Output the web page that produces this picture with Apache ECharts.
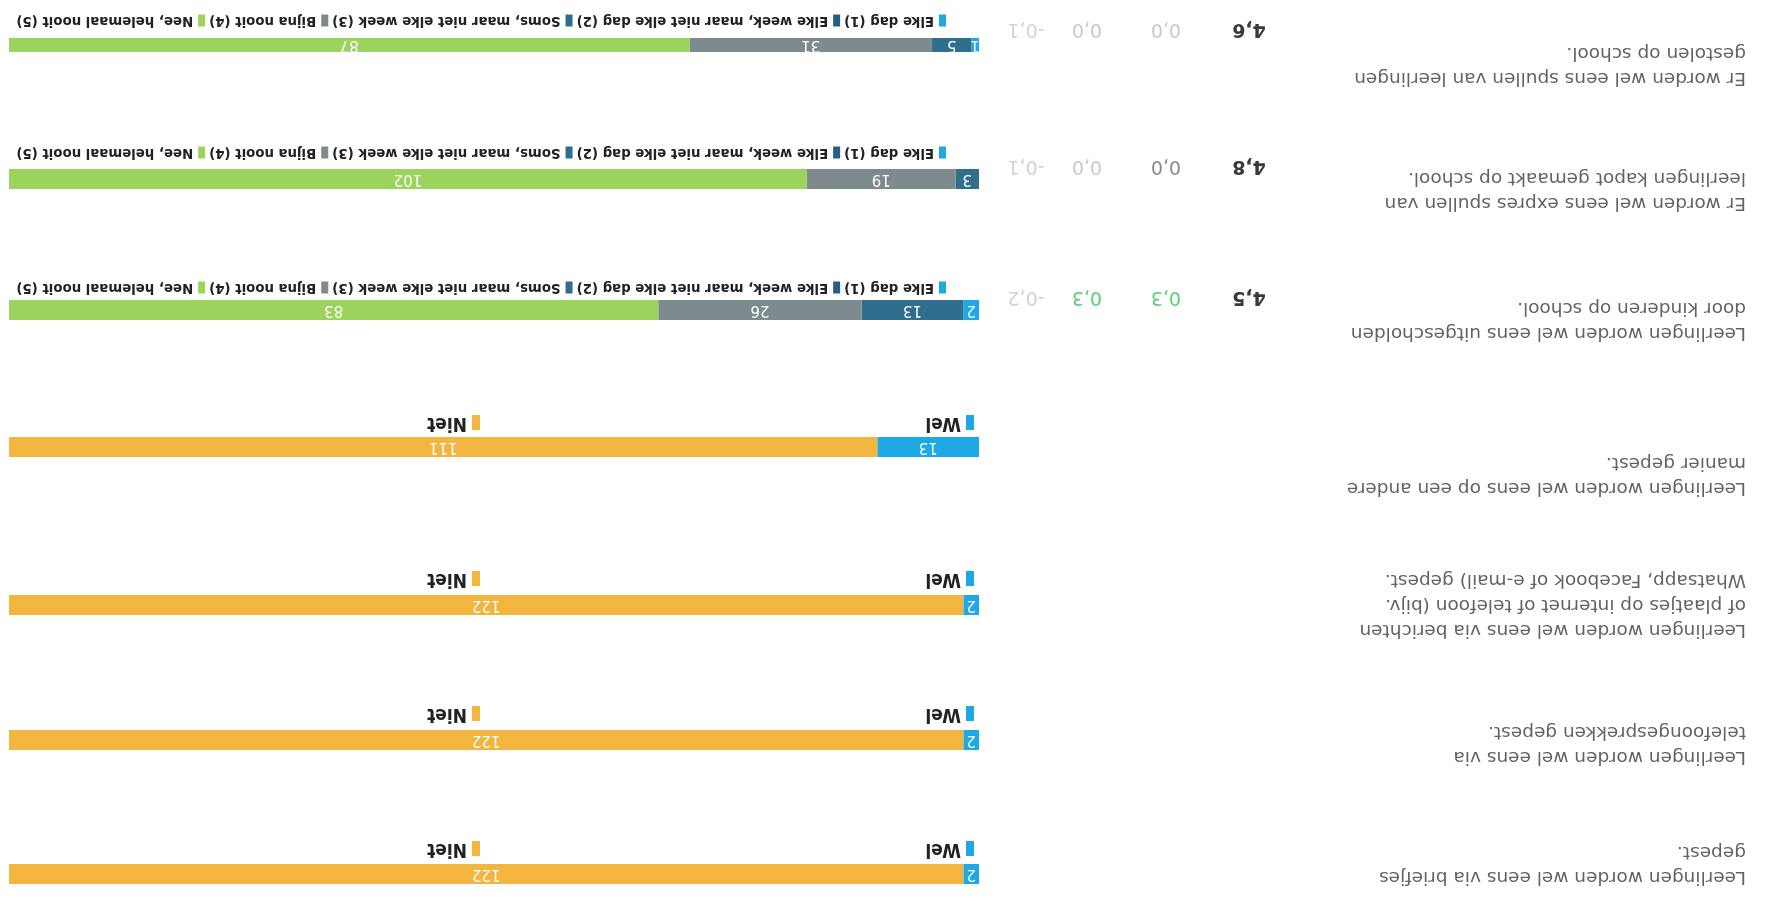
<!DOCTYPE html>
<html><head><meta charset="utf-8">
<script src="https://cdn.jsdelivr.net/npm/echarts@6/dist/echarts.min.js"></script>
<style>
html,body{margin:0;padding:0;background:#fff;overflow:hidden}
#c{width:1772px;height:916px;transform:rotate(180deg);transform-origin:50% 50%}
</style>
</head><body><div id="c"></div>
<script>
// ---- data ----
const questions = [
  'Leerlingen worden wel eens via briefjes\ngepest.',
  'Leerlingen worden wel eens via\ntelefoongesprekken gepest.',
  'Leerlingen worden wel eens via berichten\nof plaatjes op internet of telefoon (bijv.\nWhatsapp, Facebook of e-mail) gepest.',
  'Leerlingen worden wel eens op een andere\nmanier gepest.',
  'Leerlingen worden wel eens uitgescholden\ndoor kinderen op school.',
  'Er worden wel eens expres spullen van\nleerlingen kapot gemaakt op school.',
  'Er worden wel eens spullen van leerlingen\ngestolen op school.'
];
const yesNoNames = ['Wel', 'Niet'];
const welValues = [2, 2, 2, 13];
const nietValues = [122, 122, 122, 111];
const likertNames = ['Elke dag (1)', 'Elke week, maar niet elke dag (2)', 'Soms, maar niet elke week (3)', 'Bijna nooit (4)', 'Nee, helemaal nooit (5)'];
const elkeDag = [2, 0, 1];
const elkeWeek = [0, 0, 0];
const soms = [13, 3, 5];
const bijnaNooit = [26, 19, 31];
const neeNooit = [83, 102, 87];
const gemiddelde = ['4,5', '4,8', '4,6'];
const verschilA = ['0,3', '0,0', '0,0'];
const verschilB = ['0,3', '0,0', '0,0'];
const verschilC = ['-0,2', '-0,1', '-0,1'];
const totalRespondents = 124;

// ---- layout / style ----
const rowCenters = [42, 176, 311, 469, 606, 737, 874];
const legendCenters = [68, 203, 338, 494, 629, 764, 896];
const labelShift = [10, -4, 0, -28, -10, -11, -20];
const gridLeft = 793, gridRight = 9, barH = 20;
const yesNoColors = ['#1ea8e6', '#f1b540'];
const likertColors = ['#1ea8e6', '#275d85', '#2f6e8c', '#7d8a8e', '#9bd35d'];
const narrow = '"Liberation Sans Narrow","DejaVu Sans Condensed","Arial Narrow",sans-serif';

const grids = [], xAxes = [], yAxes = [], series = [], legends = [], graphics = [];
const lbl = {show: true, position: 'inside', color: '#fff', fontSize: 15, fontFamily: 'DejaVu Sans',
  formatter: p => p.value > 0 ? p.value : ''};

questions.forEach((q, i) => {
  grids.push({left: gridLeft, right: gridRight, top: rowCenters[i] - barH / 2, height: barH});
  xAxes.push({type: 'value', gridIndex: i, min: 0, max: totalRespondents, show: false});
  const s = labelShift[i];
  const sp = Math.max(1, 2 * Math.abs(s));
  yAxes.push({type: 'category', gridIndex: i, data: [q],
    axisLine: {show: false}, axisTick: {show: false},
    axisLabel: {align: 'left', margin: gridLeft - 26, verticalAlign: 'middle',
      formatter: v => (s > 0 ? '{sp| }\n' : '') + v.split('\n').map(l => '{t|' + l + '}').join('\n') + (s < 0 ? '\n{sp| }' : ''),
      rich: {
        t: {fontSize: 18.5, lineHeight: 25, color: '#636363', fontFamily: 'DejaVu Sans'},
        sp: {fontSize: 1, lineHeight: sp, height: sp}
      }}});
  if (i < 4) {
    [welValues, nietValues].forEach((arr, k) => {
      series.push({type: 'bar', name: yesNoNames[k], xAxisIndex: i, yAxisIndex: i, stack: 'r' + i,
        data: [arr[i]], barWidth: barH, itemStyle: {color: yesNoColors[k]}, label: lbl});
    });
    const legPos = [798, 1292];
    yesNoNames.forEach((n, k) => legends.push({data: [n], left: legPos[k], top: legendCenters[i] - 10,
      padding: 0, icon: 'rect', itemWidth: 8, itemHeight: 15, itemGap: 6,
      textStyle: {fontSize: 19, fontWeight: 'bold', color: '#222', fontFamily: narrow}}));
  } else {
    const j = i - 4;
    [elkeDag, elkeWeek, soms, bijnaNooit, neeNooit].forEach((arr, k) => {
      series.push({type: 'bar', name: likertNames[k], xAxisIndex: i, yAxisIndex: i, stack: 'r' + i,
        data: [arr[j]], barWidth: barH, itemStyle: {color: likertColors[k]}, label: lbl});
    });
    legends.push({data: likertNames, left: 826, top: legendCenters[i] - 8, width: 960, padding: 0, icon: 'rect',
      itemWidth: 7, itemHeight: 12, itemGap: 4,
      textStyle: {fontSize: 14.8, fontWeight: 'bold', color: '#222', fontFamily: narrow}});
    const y = rowCenters[i] + 13;
    const cols = [
      {t: gemiddelde[j], x: 523, c: '#3a3a3a', w: 'bold'},
      {t: verschilA[j], x: 606, c: verschilA[j] === '0,0' ? (j === 1 ? '#8a8a8a' : '#c9c9c9') : '#5ccf73', w: 'normal'},
      {t: verschilB[j], x: 685, c: verschilB[j] === '0,0' ? '#c9c9c9' : '#5ccf73', w: 'normal'},
      {t: verschilC[j], x: 746, c: '#d2d2d2', w: 'normal'}
    ];
    cols.forEach(o => graphics.push({type: 'text', x: o.x, y: y,
      style: {text: o.t, fill: o.c, font: o.w + ' 19px "DejaVu Sans"', textAlign: 'center', textVerticalAlign: 'middle'}}));
  }
});

const chart = echarts.init(document.getElementById('c'), null, {renderer: 'canvas'});
chart.setOption({
  animation: false,
  backgroundColor: '#fff',
  grid: grids, xAxis: xAxes, yAxis: yAxes, series: series, legend: legends,
  graphic: graphics
});
</script></body></html>
